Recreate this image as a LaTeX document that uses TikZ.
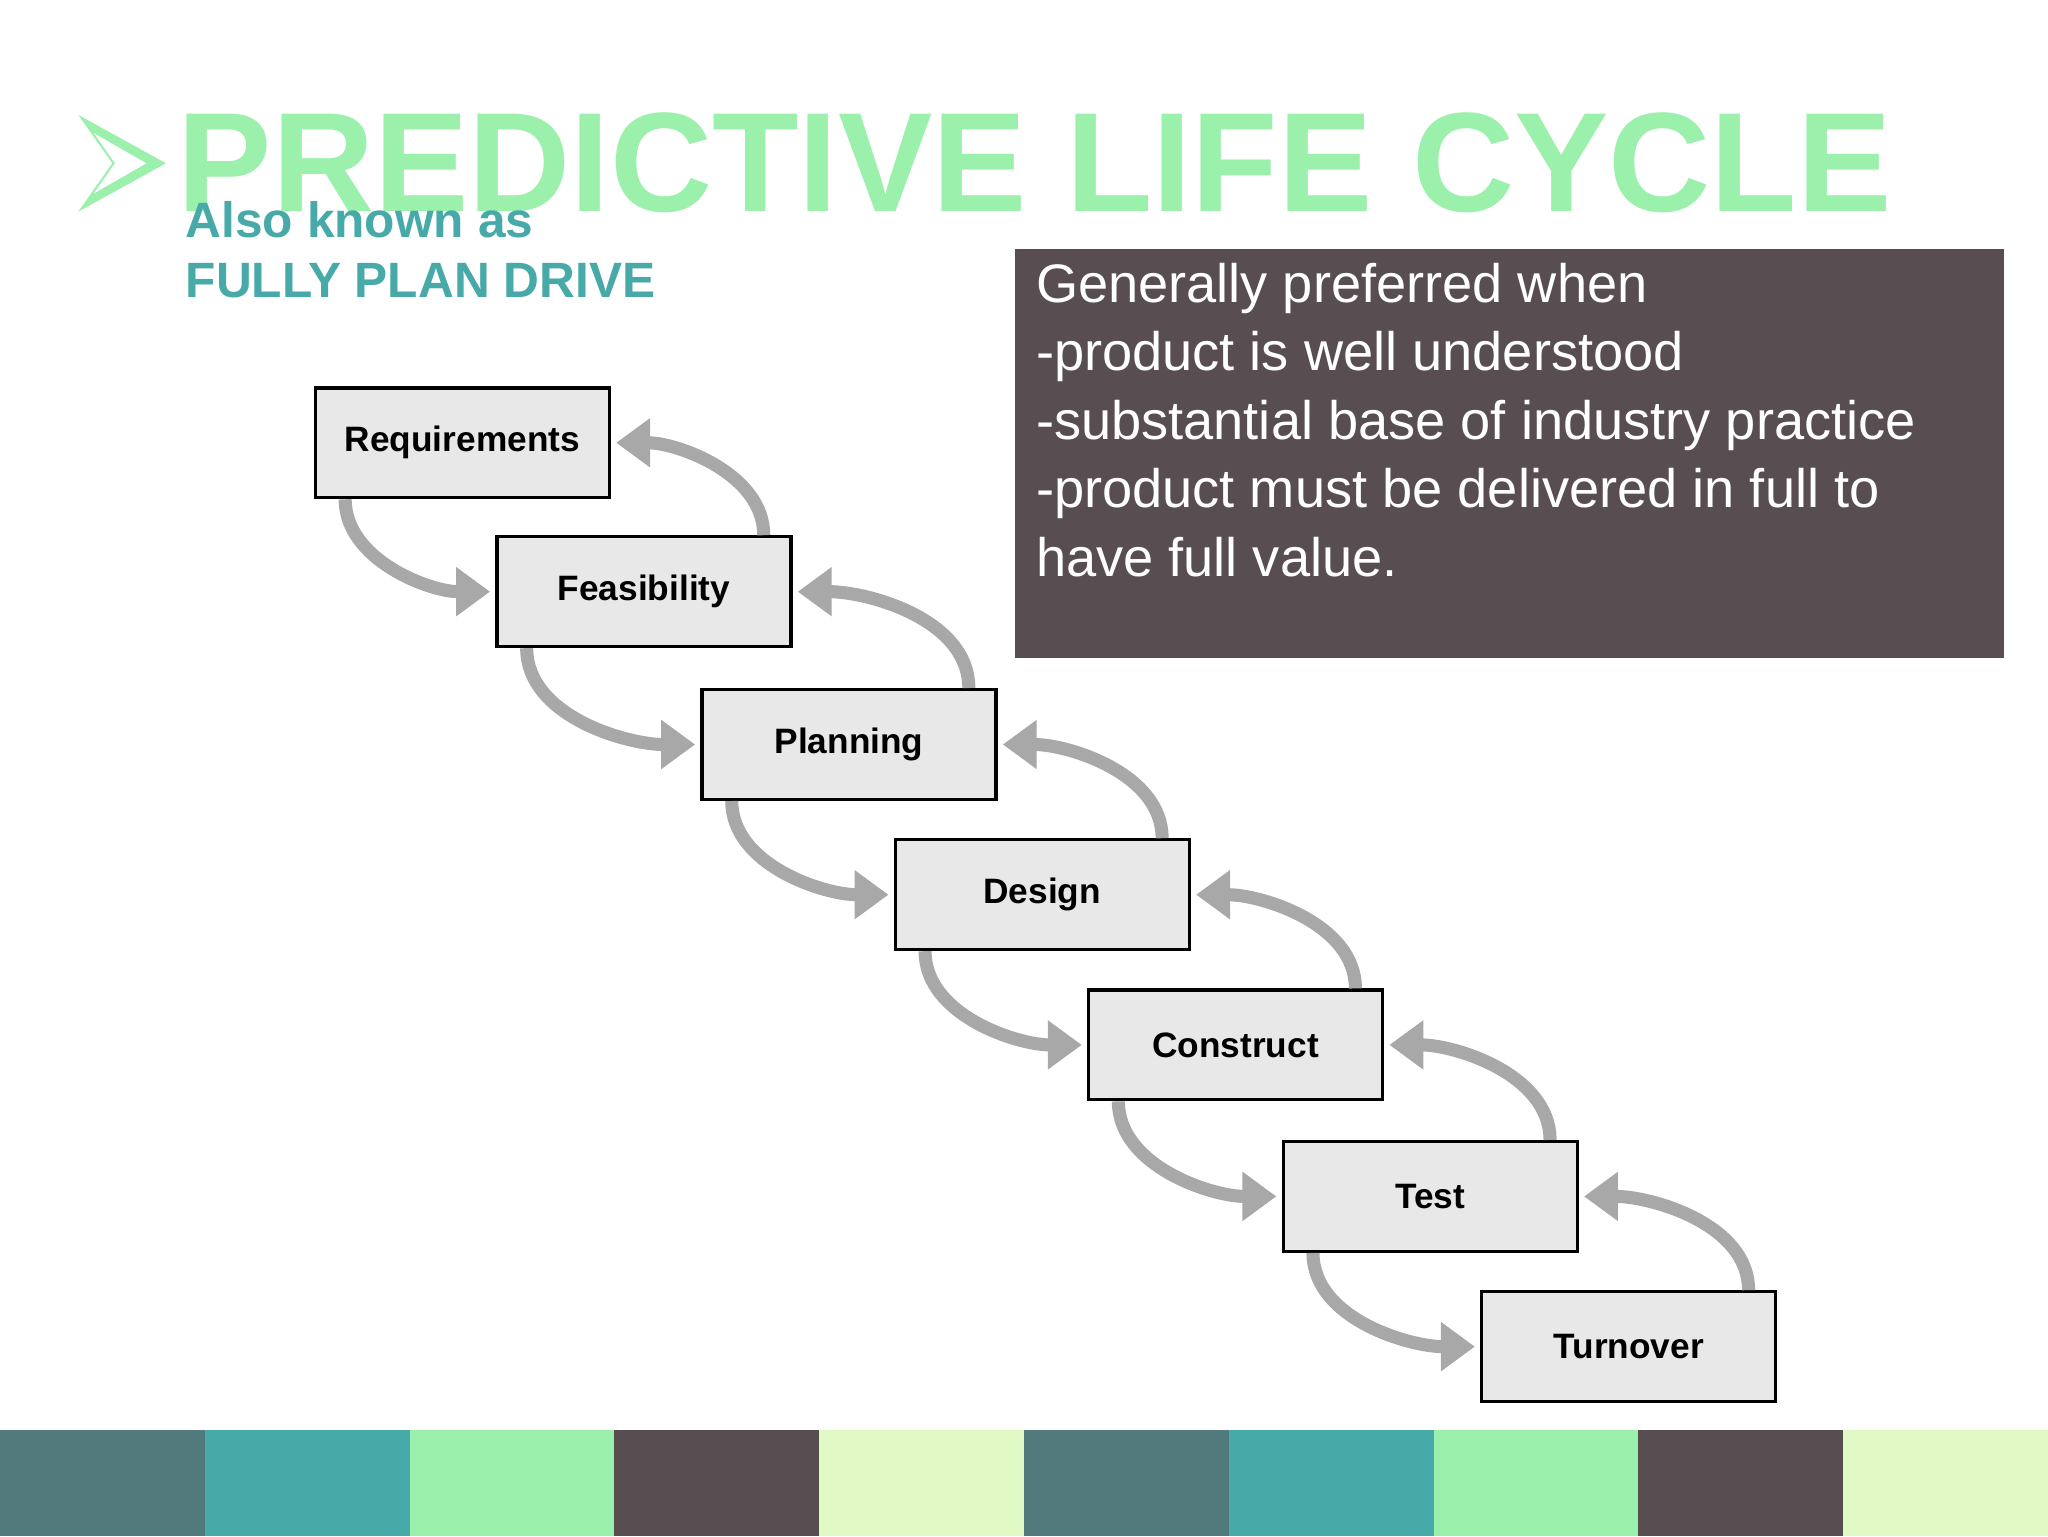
\documentclass[tikz,border=0pt]{standalone}
\usepackage{fontspec}
\setmainfont{Liberation Sans}
\usetikzlibrary{arrows.meta}
\definecolor{tgreen}{HTML}{9BF0AB}
\definecolor{teal}{HTML}{48AAA8}
\definecolor{slate}{HTML}{527A7D}
\definecolor{dark}{HTML}{584D50}
\definecolor{pale}{HTML}{E1F9C4}
\definecolor{boxg}{HTML}{E8E8E8}
\definecolor{arrg}{HTML}{A8A8A8}
\begin{document}
\begin{tikzpicture}[x=1pt,y=-1pt,
  stage/.style={draw=black,line width=2.5pt,fill=boxg,minimum width=225pt,minimum height=84pt,font=\fontsize{27}{30}\selectfont\bfseries},
  flow/.style={draw=arrg,line width=10pt,-{Triangle[length=26pt,width=36pt]}}]
\useasboundingbox (0,0) rectangle (1568,1176);
\fill[white] (0,0) rectangle (1568,1176);
% bottom bar
\foreach \c [count=\i from 0] in {slate,teal,tgreen,dark,pale,slate,teal,tgreen,dark,pale}
  \fill[\c] (\i*156.8,1095) rectangle (\i*156.8+157.8,1176);
% title
\fill[tgreen] (60,88) -- (127,125) -- (60,162) -- (86,125) -- cycle;
\fill[white] (72,102) -- (112,125) -- (72,148) -- (88,125) -- cycle;
\node[anchor=west,text=tgreen,inner sep=0] (title) at (136,125) {\resizebox{1312pt}{!}{\fontsize{119}{120}\selectfont\bfseries PREDICTIVE LIFE CYCLE}};
\node[anchor=north west,text=teal,inner sep=0,align=left,font=\fontsize{38}{46}\selectfont\bfseries] (aka) at (142,154) {Also known as\\FULLY PLAN DRIVE};
% dark box
\fill[dark] (777,191) rectangle (1534,504);
\node[anchor=north west,text=white,inner sep=0,align=left,font=\fontsize{41.5}{52.5}\selectfont] (pref) at (793,201) {Generally preferred when\\-product is well understood\\-substantial base of industry practice\\-product must be delivered in full to\\have full value.};
% stages
\node[stage] (s1) at (354,339) {Requirements};
\node[stage] (s2) at (493,453) {Feasibility};
\node[stage] (s3) at (650,570) {Planning};
\node[stage] (s4) at (798,685) {Design};
\node[stage] (s5) at (946,800) {Construct};
\node[stage] (s6) at (1095,916) {Test};
\node[stage] (s7) at (1247,1031) {Turnover};
\foreach \a/\b in {s1/s2,s2/s3,s3/s4,s4/s5,s5/s6,s6/s7}{
  \draw[flow] ([xshift=24pt]\a.south west) to[out=-90,in=180,looseness=0.9] ([xshift=-4pt]\b.west);
  \draw[flow] ([xshift=-22pt]\b.north east) to[out=90,in=0,looseness=0.9] ([xshift=4pt]\a.east);
}
\end{tikzpicture}
\end{document}
